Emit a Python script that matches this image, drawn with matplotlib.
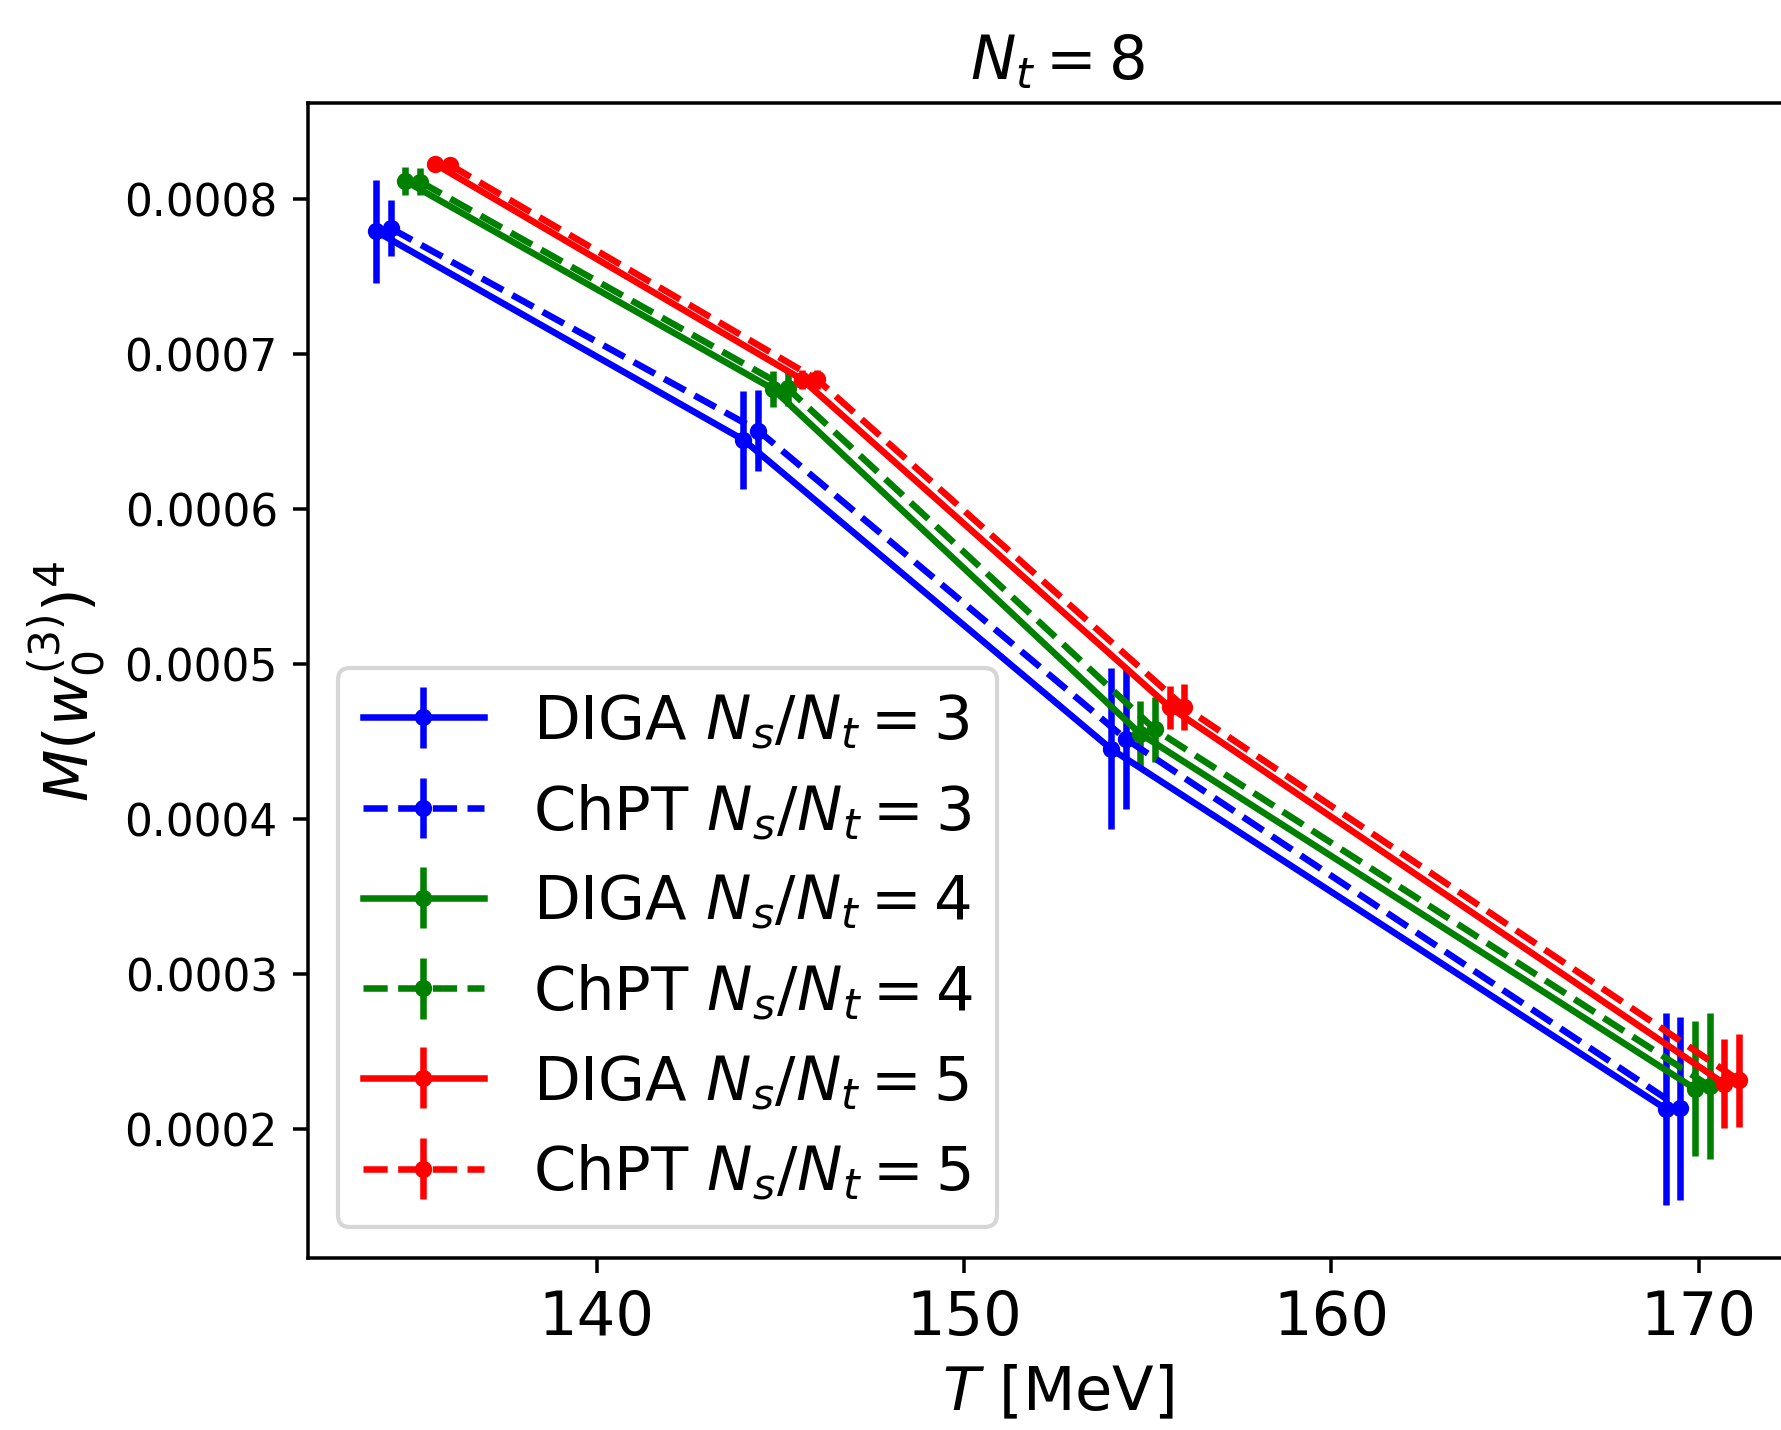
import matplotlib
matplotlib.use("Agg")
import matplotlib.pyplot as plt
import numpy as np

# temperatures (each series is shifted by 0.4 MeV for visibility)
T_diga3 = [134.0, 144.0, 154.0, 169.1]
T_chpt3 = [134.4, 144.4, 154.4, 169.5]
T_diga4 = [134.8, 144.8, 154.8, 169.9]
T_chpt4 = [135.2, 145.2, 155.2, 170.3]
T_diga5 = [135.6, 145.6, 155.6, 170.7]
T_chpt5 = [136.0, 146.0, 156.0, 171.1]

M_diga3 = [0.000779, 0.0006445, 0.0004452, 0.000213]
M_chpt3 = [0.000781, 0.0006505, 0.0004517, 0.0002134]
M_diga4 = [0.0008114, 0.0006774, 0.0004549, 0.0002259]
M_chpt4 = [0.000811, 0.0006778, 0.0004577, 0.0002276]
M_diga5 = [0.0008225, 0.0006834, 0.0004721, 0.0002291]
M_chpt5 = [0.000822, 0.0006835, 0.0004721, 0.0002313]

E_diga3 = [0.000033, 0.0000315, 0.000052, 0.000062]
E_chpt3 = [0.000018, 0.0000264, 0.0000451, 0.000059]
E_diga4 = [0.0000088, 0.0000117, 0.0000212, 0.0000437]
E_chpt4 = [0.0000088, 0.0000117, 0.0000212, 0.0000469]
E_diga5 = [0.000002, 0.0000059, 0.0000139, 0.0000288]
E_chpt5 = [0.000002, 0.0000059, 0.0000146, 0.00003]

plt.rcParams['lines.linewidth'] = 1.57
plt.rcParams['lines.markersize'] = 6.3
plt.rcParams['axes.linewidth'] = 0.84
plt.rcParams['xtick.major.width'] = 0.84
plt.rcParams['ytick.major.width'] = 0.84
plt.rcParams['xtick.major.size'] = 3.7
plt.rcParams['ytick.major.size'] = 3.7

fig = plt.figure(figsize=(1781/300, 1431/300), dpi=300)
ax = fig.add_axes([0.1728, 0.1205, 0.842, 0.8065])

ax.errorbar(T_diga3, M_diga3, yerr=E_diga3, fmt='.-', color='blue', label=r'DIGA $N_s/N_t = 3$')
ax.errorbar(T_chpt3, M_chpt3, yerr=E_chpt3, fmt='.--', color='blue', label=r'ChPT $N_s/N_t = 3$')
ax.errorbar(T_diga4, M_diga4, yerr=E_diga4, fmt='.-', color='green', label=r'DIGA $N_s/N_t = 4$')
ax.errorbar(T_chpt4, M_chpt4, yerr=E_chpt4, fmt='.--', color='green', label=r'ChPT $N_s/N_t = 4$')
ax.errorbar(T_diga5, M_diga5, yerr=E_diga5, fmt='.-', color='red', label=r'DIGA $N_s/N_t = 5$')
ax.errorbar(T_chpt5, M_chpt5, yerr=E_chpt5, fmt='.--', color='red', label=r'ChPT $N_s/N_t = 5$')

ax.set_xlim(132.14, 172.96)
ax.set_ylim(0.000117, 0.0008615)
ax.set_xticks([140, 150, 160, 170])
ax.tick_params(axis='x', labelsize=14.6)
ax.tick_params(axis='y', labelsize=10.5)

ax.set_title(r'$N_t = 8$', fontsize=14.6)
ax.set_xlabel(r'$T$ [MeV]', fontsize=14.6)
ax.set_ylabel(r'$M(w_0^{(3)})^4$', fontsize=14.6)
ax.legend(loc='lower left', fontsize=14.6)

fig.savefig('out.png', dpi=300)
